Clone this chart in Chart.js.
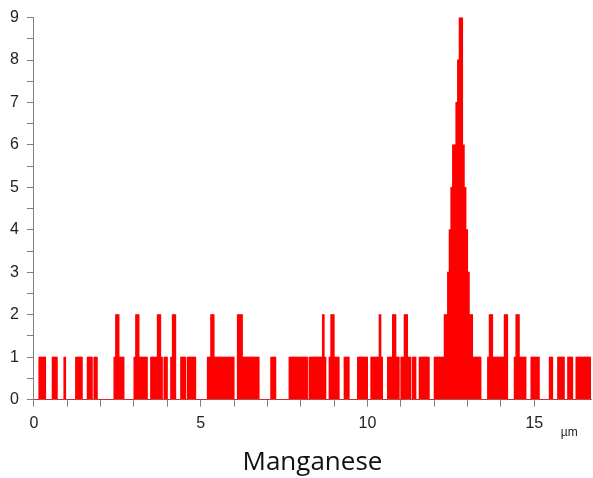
<!DOCTYPE html>
<html>
<head>
<meta charset="utf-8">
<script src="https://cdn.jsdelivr.net/npm/chart.js@4"></script>
<style>
html, body { margin: 0; padding: 0; background: #fff; }
#wrap { width: 593px; height: 478px; }
</style>
</head>
<body>
<div id="wrap"><canvas id="mnChart"></canvas></div>
<script>
// Mn counts, one value per 0.05 um bin, 20 bins (= 1 um) per row
var binWidth = 0.05;
var counts = [
    0,0,0,1,1,1,1,0,0,0, 0,1,1,1,0,0,0,0,1,0,
    0,0,0,0,0,1,1,1,1,0, 0,0,1,1,1,0,1,1,0,0,
    0,0,0,0,0,0,0,0,1,2, 2,1,1,1,0,0,0,0,0,0,
    1,2,2,1,1,1,1,1,0,0, 1,1,1,1,2,2,1,0,1,1,
    0,0,1,2,2,0,0,0,1,1, 1,0,1,1,1,1,1,0,0,0,
    0,0,0,0,1,1,2,2,1,1, 1,1,1,1,1,1,1,1,1,1,
    0,0,2,2,2,1,1,1,1,1, 1,1,1,1,1,0,0,0,0,0,
    0,0,1,1,1,0,0,0,0,0, 0,0,0,1,1,1,1,1,1,1,
    1,1,1,1,0,1,1,1,1,1, 1,1,1,2,1,0,0,1,2,2,
    1,1,1,0,0,0,1,1,1,0, 0,0,0,0,1,1,1,1,1,1,
    0,0,1,1,1,1,1,2,1,0, 0,0,1,1,1,2,2,1,1,0,
    1,1,2,2,1,1,0,1,1,0, 0,1,1,1,1,1,1,0,0,0,
    1,1,1,1,1,1,2,2,3,4, 5,6,6,7,8,9,9,6,5,4,
    3,2,2,1,1,1,1,1,0,0, 0,0,1,2,2,1,1,1,1,1,
    1,1,2,2,0,0,0,0,1,2, 2,1,1,1,1,0,0,0,1,1,
    1,1,1,0,0,0,0,0,0,1, 1,0,0,0,1,1,1,1,0,0,
    1,1,1,0,0,1,1,1,1,1, 1,1,1,1
];
var xMax = 16.7;
var xTickLabels = [0, 5, 10, 15];
var yTickLabels = [0, 1, 2, 3, 4, 5, 6, 7, 8, 9];
var unitLabel = 'µm';
var elementName = 'Manganese';

var barData = counts.map(function (c, i) {
    return { x: (i + 0.5) * binWidth, y: c };
});

var axisGrey = '#808080';
var tickFont = { family: 'Liberation Sans', size: 16 };

var unitPlugin = {
    id: 'unitLabel',
    afterDraw: function (chart) {
        var ctx = chart.ctx;
        ctx.save();
        ctx.font = '12px "Liberation Sans"';
        ctx.fillStyle = '#222';
        ctx.textAlign = 'center';
        ctx.textBaseline = 'middle';
        ctx.fillText(unitLabel, chart.scales.x.getPixelForValue(16.05), chart.chartArea.bottom + 33);
        ctx.restore();
    }
};

var mn = document.getElementById("mnChart").getContext("2d");
var mnChart = new Chart(mn, {
    type: 'bar',
    data: {
        datasets: [{
            label: elementName,
            data: barData,
            backgroundColor: 'rgb(255, 0, 0)',
            borderWidth: 0,
            inflateAmount: 0.5,
            barPercentage: 1,
            categoryPercentage: 1
        }]
    },
    options: {
        responsive: true,
        maintainAspectRatio: false,
        animation: false,
        layout: {
            padding: { left: 2, right: 2, top: 8, bottom: 0 }
        },
        plugins: {
            legend: { display: false },
            tooltip: { enabled: false },
            title: {
                display: true,
                text: elementName,
                position: 'bottom',
                fullSize: false,
                color: '#111',
                font: { family: 'Open Sans', size: 26, weight: 'normal' },
                padding: { top: 7, bottom: 0 }
            }
        },
        scales: {
            x: {
                type: 'linear',
                min: 0,
                max: xMax,
                offset: false,
                grid: { drawOnChartArea: false, tickLength: 7, color: axisGrey, offset: false },
                border: { color: axisGrey },
                afterBuildTicks: function (s) {
                    s.ticks = s.ticks.filter(function (t) { return Number.isInteger(t.value); });
                },
                ticks: {
                    stepSize: 1,
                    autoSkip: false,
                    maxRotation: 0,
                    padding: 7,
                    color: '#222',
                    font: tickFont,
                    callback: function (v) { return xTickLabels.indexOf(v) >= 0 ? String(v) : ''; }
                }
            },
            y: {
                min: 0,
                max: 9,
                grid: { drawOnChartArea: false, tickLength: 7, color: axisGrey },
                border: { color: axisGrey },
                ticks: {
                    stepSize: 0.5,
                    autoSkip: false,
                    padding: 8,
                    color: '#222',
                    font: tickFont,
                    callback: function (v) { return yTickLabels.indexOf(v) >= 0 ? String(v) : ''; }
                }
            }
        }
    },
    plugins: [unitPlugin]
});
</script>
</body>
</html>
